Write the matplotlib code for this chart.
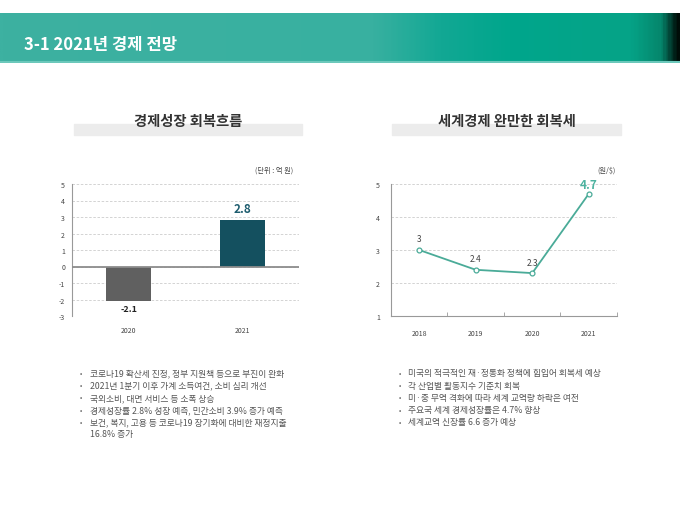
import numpy as np
import matplotlib
matplotlib.use('Agg')
import matplotlib.pyplot as plt
from matplotlib.colors import LinearSegmentedColormap
from matplotlib.patches import Rectangle

plt.rcParams['font.family'] = ['Noto Sans CJK KR', 'DejaVu Sans']
plt.rcParams['axes.unicode_minus'] = False

# data
header_title = '3-1 2021년 경제 전망'

growth_years = ['2020', '2021']
growth_values = [-2.1, 2.8]
growth_title = '경제성장 회복흐름'
growth_unit = '(단위 : 억 원)'

world_years = ['2018', '2019', '2020', '2021']
world_values = [3, 2.4, 2.3, 4.7]
world_title = '세계경제 완만한 회복세'
world_unit = '(원/$)'

left_notes = [
    '코로나19 확산세 진정, 정부 지원책 등으로 부진이 완화',
    '2021년 1분기 이후 가계 소득여건, 소비 심리 개선',
    '국외소비, 대면 서비스 등 소폭 상승',
    '경제성장률 2.8% 성장 예측, 민간소비 3.9% 증가 예측',
    '보건, 복지, 고용 등 코로나19 장기화에 대비한 재정지출\n16.8% 증가',
]
right_notes = [
    '미국의 적극적인 재·정통화 정책에 힘입어 회복세 예상',
    '각 산업별 활동지수 기준치 회복',
    '미·중 무역 격화에 따라 세계 교역량 하락은 여전',
    '주요국 세계 경제성장률은 4.7% 향상',
    '세계교역 신장률 6.6 증가 예상',
]

W, H = 680, 510
fig = plt.figure(figsize=(6.8, 5.1), dpi=100)
fig.patch.set_facecolor('white')


def fx(px):
    return px / W


def fy(py):
    return 1 - py / H


# header band
hax = fig.add_axes([0, fy(64), 1, (64 - 14) / H])
cmap = LinearSegmentedColormap.from_list('hdr', [
    (0.0, '#3db1a1'), (0.55, '#38b0a0'), (0.65, '#12a894'),
    (0.75, '#00a68c'), (0.93, '#06a387'), (0.975, '#05866c'), (1.0, '#000d08')])
grad = np.linspace(0, 1, 400).reshape(1, -1)
hax.imshow(grad, aspect='auto', cmap=cmap, extent=[0, 1, 0, 1])
hax.axhline(0.02, color='#6cc8bb', lw=1.5)
hax.set_xlim(0, 1)
hax.set_ylim(0, 1)
hax.axis('off')
fig.text(fx(24), fy(45), header_title, color='white', fontsize=12,
         fontweight='bold', va='center', ha='left')

# title bands
for x0, x1, title in [(74, 302, growth_title), (392, 621, world_title)]:
    fig.patches.append(Rectangle((fx(x0), fy(136)), fx(x1 - x0), (136 - 125) / H,
                                 transform=fig.transFigure, color='#ececec', zorder=0))
    fig.text(fx((x0 + x1) / 2), fy(122), title, fontsize=10.3, fontweight='bold',
             color='#333333', ha='center', va='center')

# left chart: bars
ax1 = fig.add_axes([fx(72), fy(317), fx(299 - 72), (317 - 185) / H])
x1 = np.arange(len(growth_years))
ax1.bar(x1, growth_values, width=0.4, color=['#606060', '#14505f'], zorder=3)
ax1.set_xlim(-0.5, 1.5)
ax1.set_ylim(-3, 5)
ax1.set_yticks(range(-3, 6))
ax1.yaxis.grid(True, linestyle=(0, (3, 2)), color='#cccccc', lw=0.6)
ax1.set_axisbelow(True)
ax1.axhline(0, color='#8c8c8c', lw=1.3, zorder=4)
for s in ['top', 'right', 'bottom']:
    ax1.spines[s].set_visible(False)
ax1.spines['left'].set_color('#999999')
ax1.spines['left'].set_linewidth(0.8)
ax1.set_xticks(x1)
ax1.set_xticklabels(growth_years)
ax1.tick_params(axis='both', length=0, labelsize=5, labelcolor='#444444')
ax1.tick_params(axis='x', pad=7)
ax1.tick_params(axis='y', pad=5)
ax1.text(x1[0], growth_values[0] - 0.18, f'{growth_values[0]}', ha='center', va='top',
         fontsize=6.5, fontweight='bold', color='#222222')
ax1.text(x1[1], growth_values[1] + 0.35, f'{growth_values[1]}', ha='center', va='bottom',
         fontsize=8.5, fontweight='bold', color='#1d5c6e')
fig.text(fx(293), fy(171), growth_unit, fontsize=5.2, color='#444444', ha='right', va='center')

# right chart: line
ax2 = fig.add_axes([fx(391), fy(317), fx(617 - 391), (317 - 185) / H])
x2 = np.arange(len(world_years))
ax2.plot(x2, world_values, color='#4aab98', lw=1.3, marker='o', ms=3.5,
         mfc='white', mec='#4aab98', mew=0.9, zorder=3)
ax2.set_xlim(-0.5, 3.5)
ax2.set_ylim(1, 5)
ax2.set_yticks(range(1, 6))
ax2.yaxis.grid(True, linestyle=(0, (3, 2)), color='#cccccc', lw=0.6)
ax2.set_axisbelow(True)
for s in ['top', 'right']:
    ax2.spines[s].set_visible(False)
for s in ['left', 'bottom']:
    ax2.spines[s].set_color('#999999')
    ax2.spines[s].set_linewidth(0.8)
ax2.set_xticks(x2)
ax2.set_xticklabels(world_years)
ax2.set_xticks(np.arange(0.5, 4, 1), minor=True)
ax2.tick_params(axis='x', which='minor', direction='in', length=3, color='#999999')
ax2.tick_params(axis='both', which='major', length=0, labelsize=5, labelcolor='#444444')
ax2.tick_params(axis='x', pad=9)
ax2.tick_params(axis='y', pad=8)
for xi, v in zip(x2[:-1], world_values[:-1]):
    ax2.text(xi, v + 0.2, f'{v:g}', ha='center', va='bottom', fontsize=6, color='#444444')
ax2.text(x2[-1], world_values[-1] + 0.1, f'{world_values[-1]:g}', ha='center', va='bottom',
         fontsize=8.5, fontweight='bold', color='#4db3a0')
fig.text(fx(616), fy(171), world_unit, fontsize=5.2, color='#444444', ha='right', va='center')

# bullet notes
def draw_notes(notes, xb, xt, y0, step):
    y = y0
    for note in notes:
        fig.text(fx(xb), fy(y), '•', fontsize=5, color='#666666', ha='center', va='center')
        lines = note.split('\n')
        for ln in lines:
            fig.text(fx(xt), fy(y), ln, fontsize=6.3, color='#555555', ha='left', va='center')
            y += step


draw_notes(left_notes, 81, 90, 374, 12.2)
draw_notes(right_notes, 400, 408, 374, 12.2)

fig.savefig('out.png', dpi=100)
